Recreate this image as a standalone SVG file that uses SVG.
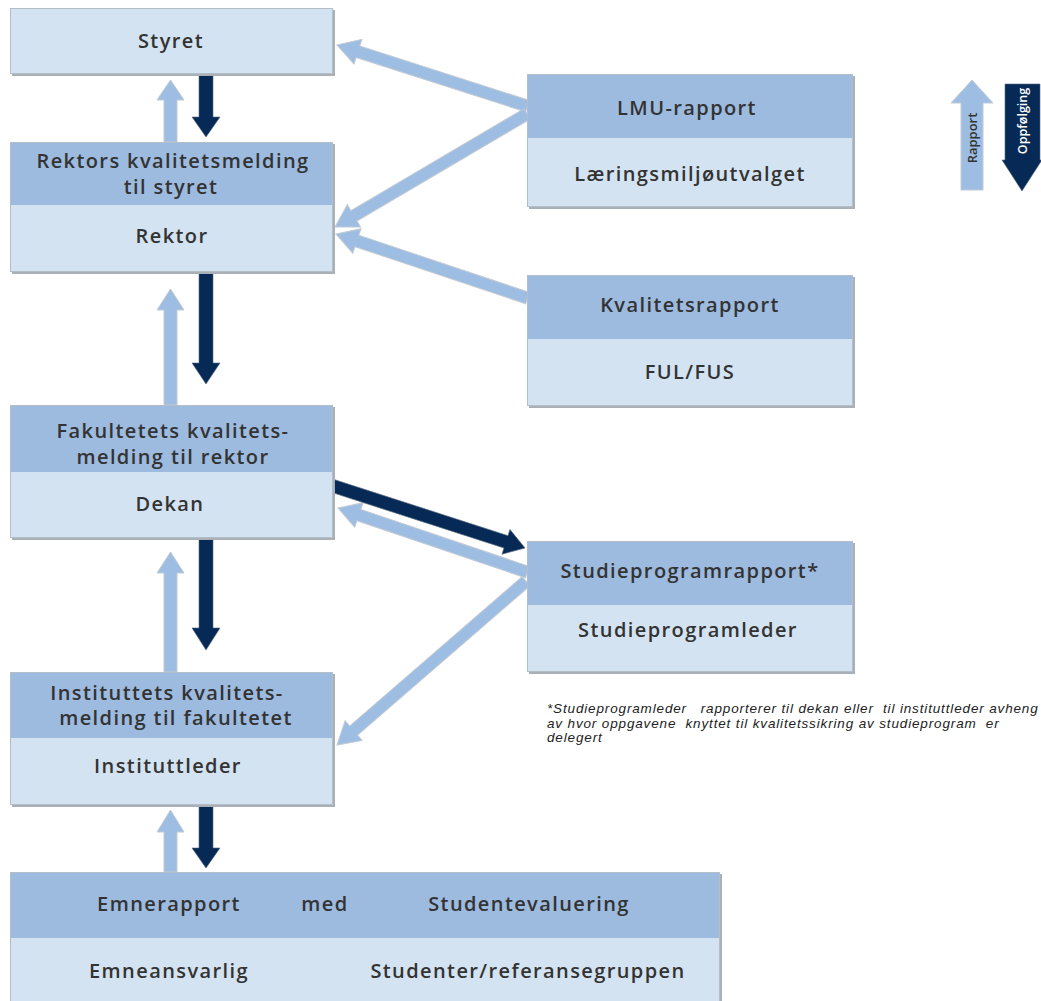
<svg xmlns="http://www.w3.org/2000/svg" width="1041" height="1001" viewBox="0 0 1041 1001">
<style>
.hd{fill:#9dbadf}
.lt{fill:#d4e3f1}
.bx{fill:none;stroke:#b4bec8;stroke-width:1}
.sh{fill:#a9b0b8}
.t{font-family:"Open Sans","DejaVu Sans",sans-serif;font-weight:600;font-size:20px;fill:#333;text-anchor:middle;letter-spacing:1.4px}
.la{fill:#9dbde2;stroke:#c2cad3;stroke-width:1}
.da{fill:#062a55;stroke:#55687f;stroke-width:0.6}
.fn{font-family:"Liberation Sans",Arial,sans-serif;font-style:italic;font-size:13.5px;fill:#222;letter-spacing:0.85px}
</style>
<rect width="1041" height="1001" fill="#fff"/>
<g id="connectors">
  <polygon class="la" points="164,142 164,100 157,100 170.5,80 184,100 177,100 177,142"/>
  <polygon class="la" points="164,405 164,310 157,310 170.5,289 184,310 177,310 177,405"/>
  <polygon class="la" points="164,672 164,573 157,573 170.5,552 184,573 177,573 177,672"/>
  <polygon class="la" points="164,872 164,832 157,832 170.5,810 184,832 177,832 177,872"/>
  <polygon class="da" points="199,75 199,117 192,117 206,137 220,117 213,117 213,75"/>
  <polygon class="da" points="199,273 199,363 192,363 206,384 220,363 213,363 213,273"/>
  <polygon class="da" points="199,539 199,628 192,628 206,650 220,628 213,628 213,539"/>
  <polygon class="da" points="199,806 199,848 192,848 206,868 220,848 213,848 213,806"/>
  <g transform="translate(337,45) rotate(17.8)"><polygon class="la" points="0,0 22,-13 22,-6 200,-6 200,6 22,6 22,13"/></g>
  <g transform="translate(335,227) rotate(-30.5)"><polygon class="la" points="0,0 22,-13 22,-6 223,-6 223,6 22,6 22,13"/></g>
  <g transform="translate(336,234) rotate(18.5)"><polygon class="la" points="0,0 22,-13 22,-6 202,-6 202,6 22,6 22,13"/></g>
  <g transform="translate(338,508) rotate(18.7)"><polygon class="la" points="0,0 22,-13 22,-6 200,-6 200,6 22,6 22,13"/></g>
  <g transform="translate(337,745) rotate(-40.9)"><polygon class="la" points="0,0 22,-13 22,-6 250,-6 250,6 22,6 22,13"/></g>
  <g transform="translate(525,548) rotate(197.9)"><polygon class="da" points="0,0 20,-13 20,-6.5 202,-6.5 202,6.5 20,6.5 20,13"/></g>
</g>
<g id="styret">
  <rect class="sh" x="12" y="10" width="323" height="66"/>
  <rect class="lt" x="10" y="8" width="323" height="66"/>
  <rect class="bx" x="10.5" y="8.5" width="322" height="65"/>
  <text class="t" x="171" y="48">Styret</text>
</g>
<g id="rektor">
  <rect class="sh" x="12" y="144" width="323" height="130"/>
  <rect class="hd" x="10" y="142" width="323" height="63"/>
  <rect class="lt" x="10" y="205" width="323" height="67"/>
  <rect class="bx" x="10.5" y="142.5" width="322" height="129"/>
  <text class="t" x="173" y="168">Rektors kvalitetsmelding</text>
  <text class="t" x="171" y="194">til styret</text>
  <text class="t" x="172" y="243">Rektor</text>
</g>
<g id="fakultet">
  <rect class="sh" x="12" y="407" width="323" height="133"/>
  <rect class="hd" x="10" y="405" width="323" height="67"/>
  <rect class="lt" x="10" y="472" width="323" height="66"/>
  <rect class="bx" x="10.5" y="405.5" width="322" height="132"/>
  <text class="t" x="173" y="438">Fakultetets kvalitets-</text>
  <text class="t" x="173" y="464">melding til rektor</text>
  <text class="t" x="170" y="511">Dekan</text>
</g>
<g id="institutt">
  <rect class="sh" x="12" y="674" width="323" height="133"/>
  <rect class="hd" x="10" y="672" width="323" height="66"/>
  <rect class="lt" x="10" y="738" width="323" height="67"/>
  <rect class="bx" x="10.5" y="672.5" width="322" height="132"/>
  <text class="t" x="167" y="700">Instituttets kvalitets-</text>
  <text class="t" x="176" y="725">melding til fakultetet</text>
  <text class="t" x="168" y="773">Instituttleder</text>
</g>
<g id="emne">
  <rect class="sh" x="12" y="874" width="710" height="130"/>
  <rect class="hd" x="10" y="872" width="710" height="66"/>
  <rect class="lt" x="10" y="938" width="710" height="63"/>
  <rect class="bx" x="10.5" y="872.5" width="709" height="130"/>
  <text class="t" x="169" y="911">Emnerapport</text>
  <text class="t" x="325" y="911">med</text>
  <text class="t" x="529" y="911">Studentevaluering</text>
  <text class="t" x="169" y="978">Emneansvarlig</text>
  <text class="t" x="528" y="978">Studenter/referansegruppen</text>
</g>
<g id="lmu">
  <rect class="sh" x="529" y="76" width="326" height="133"/>
  <rect class="hd" x="527" y="74" width="326" height="64"/>
  <rect class="lt" x="527" y="138" width="326" height="69"/>
  <rect class="bx" x="527.5" y="74.5" width="325" height="132"/>
  <text class="t" x="687" y="115">LMU-rapport</text>
  <text class="t" x="690" y="181">Læringsmiljøutvalget</text>
</g>
<g id="kvalitet">
  <rect class="sh" x="529" y="277" width="326" height="131"/>
  <rect class="hd" x="527" y="275" width="326" height="64"/>
  <rect class="lt" x="527" y="339" width="326" height="67"/>
  <rect class="bx" x="527.5" y="275.5" width="325" height="130"/>
  <text class="t" x="690" y="312">Kvalitetsrapport</text>
  <text class="t" x="690" y="379">FUL/FUS</text>
</g>
<g id="studieprogram">
  <rect class="sh" x="529" y="543" width="326" height="131"/>
  <rect class="hd" x="527" y="541" width="326" height="64"/>
  <rect class="lt" x="527" y="605" width="326" height="67"/>
  <rect class="bx" x="527.5" y="541.5" width="325" height="130"/>
  <text class="t" x="690" y="578">Studieprogramrapport*</text>
  <text class="t" x="688" y="637">Studieprogramleder</text>
</g>
<g id="footnote">
  <text class="fn" x="547" y="713" xml:space="preserve">*Studieprogramleder   rapporterer til dekan eller  til instituttleder avheng</text>
  <text class="fn" x="547" y="728" xml:space="preserve">av hvor oppgavene  knyttet til kvalitetssikring av studieprogram  er</text>
  <text class="fn" x="547" y="742">delegert</text>
</g>
<g id="legend">
  <polygon class="la" points="961,190 961,103 951,103 972,80 993,103 983,103 983,190"/>
  <text x="0" y="0" transform="translate(977,138) rotate(-90)" style="font-family:'Open Sans',sans-serif;font-weight:600;font-size:13px;fill:#333;text-anchor:middle">Rapport</text>
  <polygon class="da" points="1005,84 1005,160 1002,160 1022,191 1042,160 1040,160 1040,84"/>
  <text x="0" y="0" transform="translate(1027,121) rotate(-90)" style="font-family:'Open Sans',sans-serif;font-weight:600;font-size:12.5px;fill:#fff;text-anchor:middle">Oppfølging</text>
</g>
</svg>
